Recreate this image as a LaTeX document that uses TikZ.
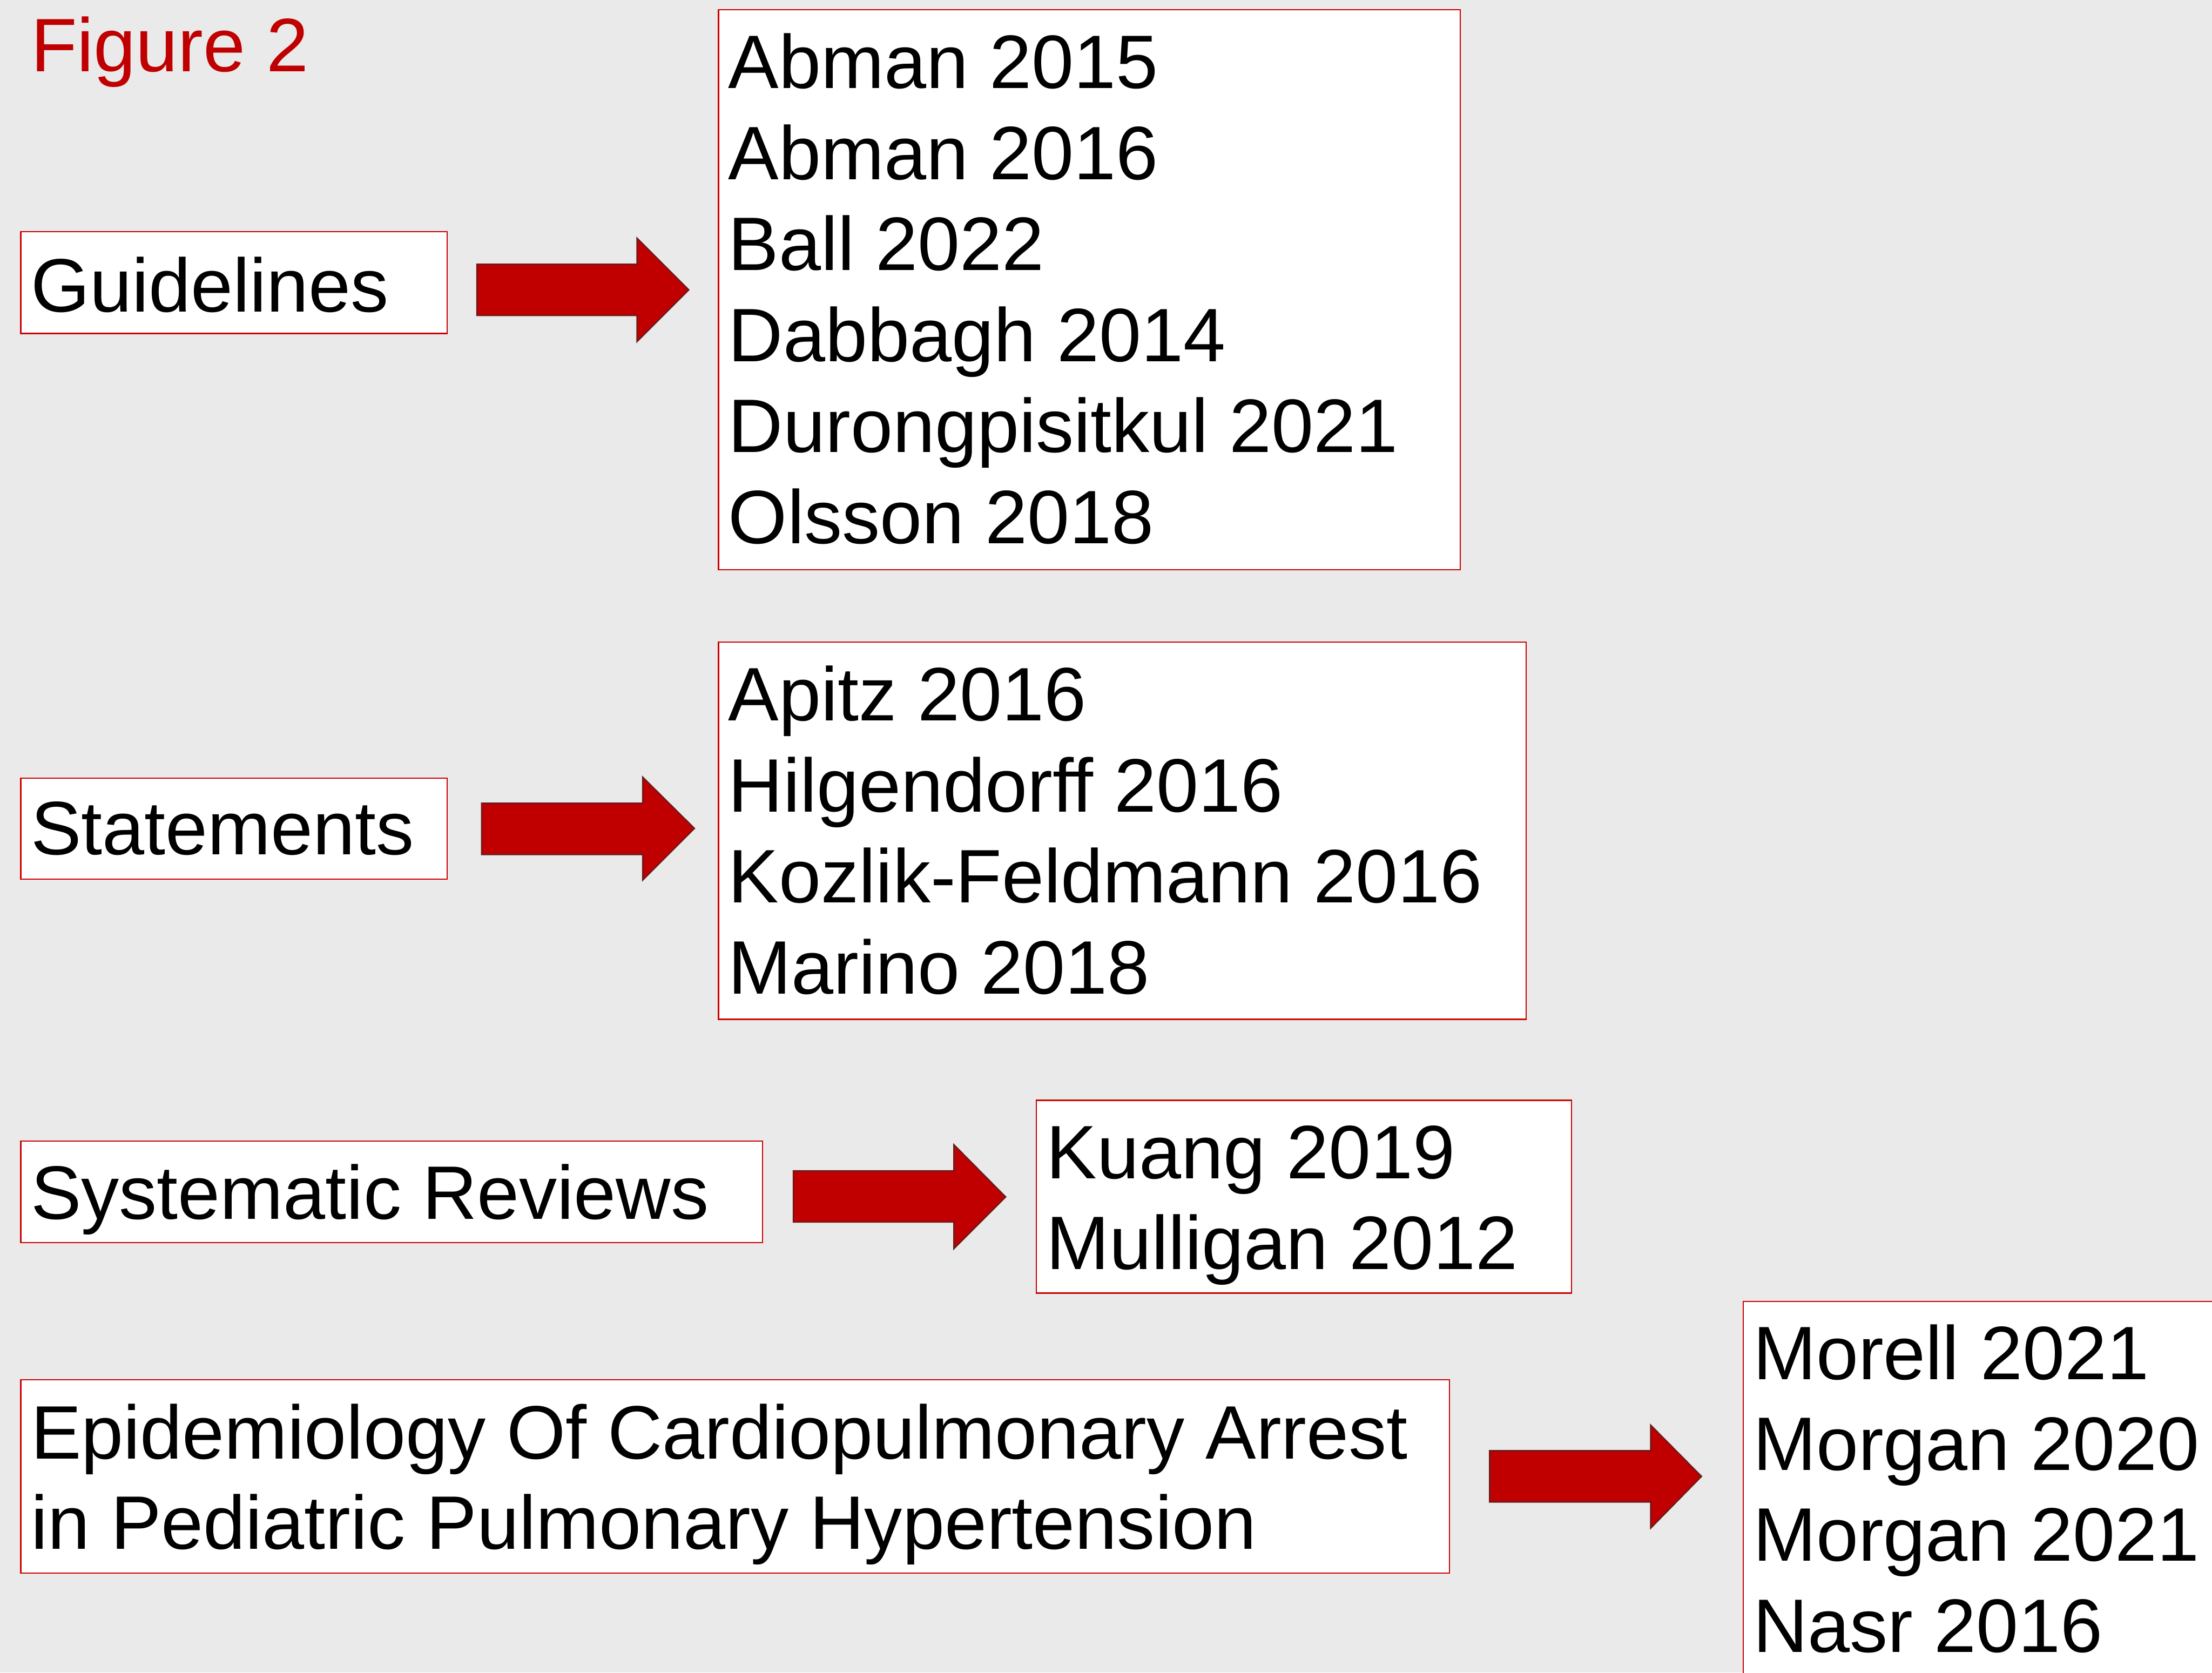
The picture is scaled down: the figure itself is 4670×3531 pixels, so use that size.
\documentclass[tikz,border=0pt]{standalone}
\usepackage{fontspec}
\setmainfont{Liberation Sans}
\usetikzlibrary{fit}
\definecolor{bgcol}{RGB}{234,234,234}
\definecolor{boxred}{RGB}{204,0,0}
\definecolor{arrfill}{RGB}{192,0,0}
\definecolor{arrline}{RGB}{110,26,26}
\definecolor{titlered}{RGB}{192,0,0}
\tikzset{
  boxnode/.style={draw=boxred, line width=0.25pt, fill=white, inner sep=0pt, outer sep=0pt},
  txt/.style={anchor=base west, inner sep=0pt, outer sep=0pt, font=\fontsize{16pt}{19.2pt}\selectfont, text=black},
  titletxt/.style={txt, text=titlered},
  blockarrow/.style={fill=arrfill, draw=arrline, line width=0.3pt, line join=miter},
}
\begin{document}
\begin{tikzpicture}[x=0.1pt, y=-0.1pt]
\useasboundingbox (0,0) rectangle (4670,3531);
\fill[bgcol] (0,0) rectangle (4670,3531);
\clip (0,0) rectangle (4670,3531);

% title
\node[titletxt] (title) at (65,151) {Figure 2};

% Guidelines
\node[boxnode, fit={(44,489) (944,704)}] (gl) {};
\node[txt] (gltxt) at (65,658) {Guidelines};
\node[boxnode, fit={(1517,21) (3083,1203)}] (glref) {};
\node[txt] (g1) at (1538,187) {Abman 2015};
\node[txt] (g2) at (1538,379) {Abman 2016};
\node[txt] (g3) at (1538,571) {Ball 2022};
\node[txt] (g4) at (1538,763) {Dabbagh 2014};
\node[txt] (g5) at (1538,955) {Durongpisitkul 2021};
\node[txt] (g6) at (1538,1147) {Olsson 2018};
\filldraw[blockarrow] (1007,558) -- (1345,558) -- (1345,503) -- (1454,612) -- (1345,721) -- (1345,666) -- (1007,666) -- cycle;

% Statements
\node[boxnode, fit={(44,1643) (944,1856)}] (st) {};
\node[txt] (sttxt) at (65,1804) {Statements};
\node[boxnode, fit={(1517,1356) (3222,2152)}] (stref) {};
\node[txt] (s1) at (1538,1522) {Apitz 2016};
\node[txt] (s2) at (1538,1714) {Hilgendorff 2016};
\node[txt] (s3) at (1538,1906) {Kozlik-Feldmann 2016};
\node[txt] (s4) at (1538,2098) {Marino 2018};
\filldraw[blockarrow] (1017,1696) -- (1357,1696) -- (1357,1641) -- (1466,1749) -- (1357,1858) -- (1357,1804) -- (1017,1804) -- cycle;

% Systematic Reviews
\node[boxnode, fit={(44,2409) (1610,2623)}] (sr) {};
\node[txt] (srtxt) at (65,2574) {Systematic Reviews};
\node[boxnode, fit={(2188,2323) (3318,2730)}] (srref) {};
\node[txt] (r1) at (2209,2488) {Kuang 2019};
\node[txt] (r2) at (2209,2680) {Mulligan 2012};
\filldraw[blockarrow] (1675,2472) -- (2014,2472) -- (2014,2417) -- (2123,2527) -- (2014,2636) -- (2014,2580) -- (1675,2580) -- cycle;

% Epidemiology
\node[boxnode, fit={(44,2913) (3060,3321)}] (ep) {};
\node[txt] (ep1) at (65,3080) {Epidemiology Of Cardiopulmonary Arrest};
\node[txt] (ep2) at (65,3271) {in Pediatric Pulmonary Hypertension};
\node[boxnode, fit={(3680,2748) (4720,3600)}] (epref) {};
\node[txt] (e1) at (3701,2912) {Morell 2021};
\node[txt] (e2) at (3701,3104) {Morgan 2020};
\node[txt] (e3) at (3701,3296) {Morgan 2021};
\node[txt] (e4) at (3701,3488) {Nasr 2016};
\filldraw[blockarrow] (3145,3063) -- (3485,3063) -- (3485,3009) -- (3592,3117) -- (3485,3226) -- (3485,3171) -- (3145,3171) -- cycle;
\end{tikzpicture}
\end{document}
